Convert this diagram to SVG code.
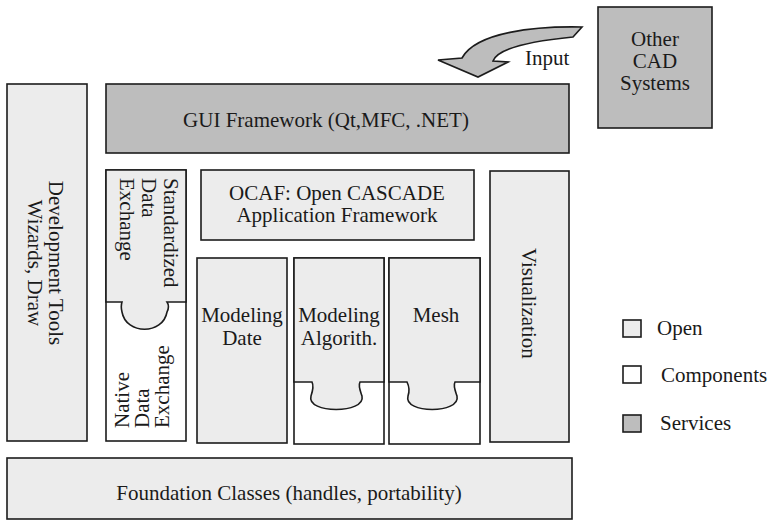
<svg xmlns="http://www.w3.org/2000/svg" width="770" height="526" viewBox="0 0 770 526">
<style>
  .box { stroke: #1c1c1c; stroke-width: 1.6; }
  .open { fill: #ececec; }
  .comp { fill: #ffffff; }
  .serv { fill: #bdbdbd; }
  text { font-family: "Liberation Serif", "Times New Roman", serif; font-size: 21px; fill: #1a1a1a; }
  .c { text-anchor: middle; }
</style>
<rect width="770" height="526" fill="#ffffff"/>

<g id="input-arrow">
  <path class="box serv" d="M582,27 C536,26 476,32 462,58 L438,60 L478,77 L508,62 L493,61 C497,50 522,42 573,37 Z"/>
  <text x="525" y="65" font-size="20">Input</text>
</g>

<g id="other-cad">
  <rect class="box serv" x="598" y="7" width="114" height="121"/>
  <text class="c" x="655" y="46" font-size="19">Other</text>
  <text class="c" x="655" y="68" font-size="19">CAD</text>
  <text class="c" x="655" y="90" font-size="19">Systems</text>
</g>

<g id="dev-tools">
  <rect class="box open" x="7" y="84" width="80" height="357"/>
  <g transform="translate(0,263) rotate(90)">
    <text class="c" x="0" y="-49">Development Tools</text>
    <text class="c" x="0" y="-28">Wizards, Draw</text>
  </g>
</g>

<g id="gui">
  <rect class="box serv" x="106" y="84" width="463" height="69"/>
  <text class="c" x="326" y="127">GUI Framework (Qt,MFC, .NET)</text>
</g>

<g id="data-exchange">
  <rect class="box comp" x="106" y="170" width="80" height="271"/>
  <path class="box open" d="M106,170 H186 V302 H167 C169,305 169,308 167,312 C163,335 126,335 122,312 C121,308 121,305 122,302 H106 Z"/>
  <g transform="translate(0,178) rotate(90)">
    <text x="0" y="-164">Standardized</text>
    <text x="0" y="-142">Data</text>
    <text x="0" y="-120">Exchange</text>
  </g>
  <g transform="translate(0,428) rotate(-90)">
    <text x="0" y="129">Native</text>
    <text x="0" y="149">Data</text>
    <text x="0" y="169">Exchange</text>
  </g>
</g>

<g id="ocaf">
  <rect class="box open" x="201" y="170" width="273" height="70"/>
  <text class="c" x="337" y="200">OCAF: Open CASCADE</text>
  <text class="c" x="337" y="222">Application Framework</text>
</g>

<g id="visualization">
  <rect class="box open" x="490" y="171" width="79" height="271"/>
  <g transform="translate(0,248) rotate(90)">
    <text x="0" y="-522">Visualization</text>
  </g>
</g>

<g id="modeling-date">
  <rect class="box open" x="197" y="258" width="90" height="185"/>
  <text class="c" x="242" y="322" font-size="20">Modeling</text>
  <text class="c" x="242" y="345" font-size="20">Date</text>
</g>

<g id="modeling-algorithm">
  <rect class="box comp" x="294" y="258" width="90" height="186"/>
  <path class="box open" d="M294,258 H384 V382 H360 C358,386 360,390 362,396 C366,414 306,414 311,396 C313,390 314,386 312,382 H294 Z"/>
  <text class="c" x="339" y="322" font-size="20">Modeling</text>
  <text class="c" x="339" y="345" font-size="20">Algorith.</text>
</g>

<g id="mesh">
  <rect class="box comp" x="389" y="258" width="91" height="186"/>
  <path class="box open" d="M389,258 H480 V382 H455 C453,386 455,390 457,396 C461,414 403,414 408,396 C410,390 409,386 407,382 H389 Z"/>
  <text class="c" x="436" y="322" font-size="20">Mesh</text>
</g>

<g id="foundation">
  <rect class="box open" x="7" y="458" width="565" height="61"/>
  <text class="c" x="289" y="500" font-size="22">Foundation Classes (handles, portability)</text>
</g>

<g id="legend">
  <rect class="box open" x="623" y="320" width="18" height="17"/>
  <text x="657" y="335">Open</text>
  <rect class="box comp" x="623" y="366" width="18" height="17"/>
  <text x="661" y="382">Components</text>
  <rect class="box serv" x="623" y="415" width="18" height="17"/>
  <text x="660" y="430">Services</text>
</g>

<g id="connectors"></g>
</svg>
